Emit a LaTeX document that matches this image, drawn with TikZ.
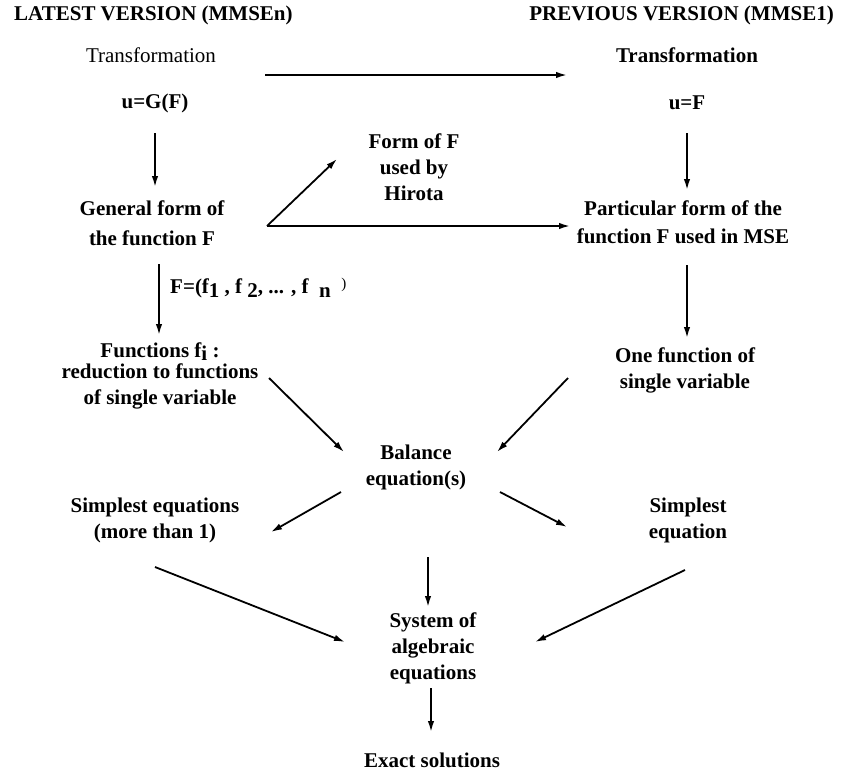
\documentclass[tikz,border=0pt]{standalone}
\usepackage{fontspec}
\setmainfont{Liberation Serif}
\usetikzlibrary{arrows.meta}
\begin{document}
\begin{tikzpicture}[x=1pt,y=-1pt,
  txt/.style={font=\fontsize{21}{26}\selectfont\bfseries,align=center,inner sep=0pt},
  arr/.style={line width=1.8pt,-{Latex[length=11pt,width=6.5pt]}}]
  \useasboundingbox (0,0) rectangle (841,774);
  % headings
  \node [txt,anchor=west] (latest) at (14,15) {LATEST VERSION (MMSEn)};
  \node [txt,anchor=east] (previous) at (834,15) {PREVIOUS VERSION (MMSE1)};
  % left column
  \node [txt,font=\fontsize{21}{26}\selectfont] (trL) at (151,55) {Transformation};
  \node [txt] (uG) at (155,103) {u=G(F)};
  \node [txt] (genF) at (152,223) {General form of\\[4pt]the function F};
  \node [txt,anchor=west] (flabel) at (170,288) {F=(f\raisebox{-4pt}{1} , f \raisebox{-4pt}{2}, ... , f\ \ \raisebox{-4pt}{n}\ \ \raisebox{5pt}{\mdseries\fontsize{15}{15}\selectfont )}};
  \node [txt] (funcs) at (160,376) {Functions f\raisebox{-3pt}{i} :\\[-5pt]reduction to functions\\of single variable};
  \node [txt] (simpL) at (155,520) {Simplest equations\\(more than 1)};
  % middle
  \node [txt] (hirota) at (414,167) {Form of F\\used by\\Hirota};
  \node [txt] (balance) at (416,467) {Balance\\equation(s)};
  \node [txt] (system) at (433,648) {System of\\algebraic\\equations};
  \node [txt] (exact) at (432,760) {Exact solutions};
  % right column
  \node [txt] (trR) at (687,55) {Transformation};
  \node [txt] (uF) at (687,103) {u=F};
  \node [txt] (partF) at (683,222) {Particular form of the\\[2pt]function F used in MSE};
  \node [txt] (oneF) at (685,370) {One function of\\single variable};
  \node [txt] (simpR) at (688,520) {Simplest\\equation};
  \coordinate (fork) at ([shift={(115,3)}]genF.center);
  % arrows
  \draw [arr] ([shift={(114,20)}]trL.center) -- ([shift={(-120,20)}]trR.center);
  \draw [arr] ([shift={(0,30)}]uG.center) -- ([shift={(3,-36)}]genF.center);
  \draw [arr] (fork) -- ([shift={(-77,-8)}]hirota.center);
  \draw [arr] (fork) -- ([shift={(-113,4)}]partF.center);
  \draw [arr] ([shift={(0,30)}]uF.center) -- ([shift={(4,-32)}]partF.center);
  \draw [arr] ([shift={(4,43)}]partF.center) -- ([shift={(2,-32)}]oneF.center);
  \draw [arr] ([shift={(7,41)}]genF.center) -- ([shift={(-1,-41)}]funcs.center);
  \draw [arr] ([shift={(109,2)}]funcs.center) -- ([shift={(-72,-15)}]balance.center);
  \draw [arr] ([shift={(-117,8)}]oneF.center) -- ([shift={(81,-15)}]balance.center);
  \draw [arr] ([shift={(-75,25)}]balance.center) -- ([shift={(116,12)}]simpL.center);
  \draw [arr] ([shift={(84,25)}]balance.center) -- ([shift={(-121,7)}]simpR.center);
  \draw [arr] ([shift={(12,90)}]balance.center) -- ([shift={(-5,-41)}]system.center);
  \draw [arr] ([shift={(0,47)}]simpL.center) -- ([shift={(-88,-6)}]system.center);
  \draw [arr] ([shift={(-3,50)}]simpR.center) -- ([shift={(102,-6)}]system.center);
  \draw [arr] ([shift={(-2,40)}]system.center) -- ([shift={(-1,-28)}]exact.center);
\end{tikzpicture}
\end{document}
